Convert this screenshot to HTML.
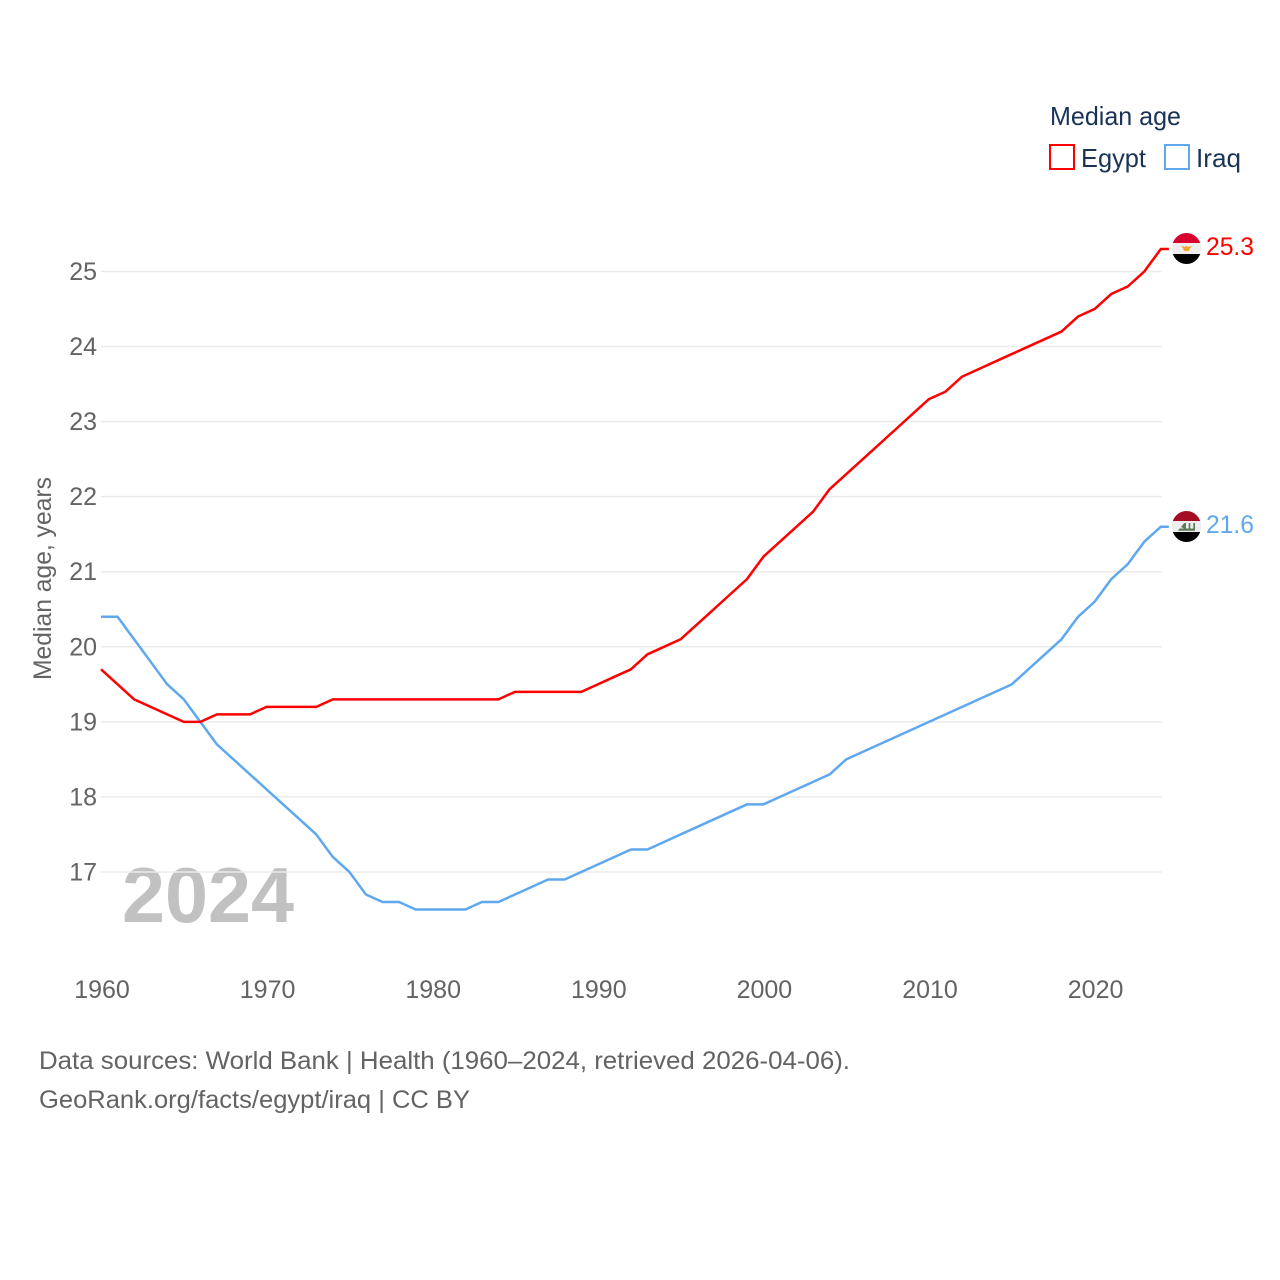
<!DOCTYPE html>
<html lang="en">
<head>
<meta charset="utf-8">
<title>Median age: Egypt and Iraq</title>
<style>
html,body{margin:0;padding:0;background:#fff;width:1280px;height:1280px;overflow:hidden}
svg{display:block}
text{font-family:"Liberation Sans",sans-serif}
</style>
</head>
<body>
<svg id="chart" xmlns="http://www.w3.org/2000/svg" width="1280" height="1280" viewBox="0 0 1280 1280">
  <defs>
    <clipPath id="clip-egypt"><ellipse cx="1186.5" cy="248.5" rx="14.7" ry="15.5"/></clipPath>
    <clipPath id="clip-iraq"><ellipse cx="1186.5" cy="526.5" rx="14.7" ry="15.5"/></clipPath>
  </defs>
  <rect width="1280" height="1280" fill="#fff"/>
  <text x="122" y="922" font-size="78" font-weight="700" fill="#c1c1c1" textLength="172" lengthAdjust="spacingAndGlyphs">2024</text>
  <g id="grid"></g>
  <g id="y-ticks"></g>
  <g id="x-ticks"></g>
  <text transform="translate(51,680) rotate(-90)" font-size="25" fill="#636363" textLength="203" lengthAdjust="spacingAndGlyphs">Median age, years</text>
  <g id="series"></g>

  <g clip-path="url(#clip-egypt)">
    <rect x="1170" y="232" width="34" height="11" fill="#d8032f"/>
    <rect x="1170" y="243" width="34" height="11" fill="#eeeeee"/>
    <rect x="1170" y="254" width="34" height="11" fill="#000"/>
    <path d="M1181 246 L1185 247 L1186.3 245.5 L1187.7 247 L1191.7 246 L1189.5 249 L1189 251 L1184 251 L1183.5 249 Z" fill="#f5a030"/>
  </g>
  <text x="1206" y="255" font-size="25" fill="#ff0000" textLength="48" lengthAdjust="spacingAndGlyphs">25.3</text>

  <g clip-path="url(#clip-iraq)">
    <rect x="1170" y="510" width="34" height="11" fill="#a50d24"/>
    <rect x="1170" y="521" width="34" height="11" fill="#eeeeee"/>
    <rect x="1170" y="532" width="34" height="11" fill="#000"/>
    <path d="M1178 530.7 L1195 530.7 L1195 523 L1193.3 523 L1193.3 528.5 L1190.3 528.5 L1190.3 523 L1188.7 523 L1188.7 528.5 L1186 528.5 L1186 523 L1184.3 523 L1181 527 L1184 528.5 L1179.5 528.5 Z" fill="#5f7a58"/>
  </g>
  <text x="1206" y="533" font-size="25" fill="#5fa8ee" textLength="48" lengthAdjust="spacingAndGlyphs">21.6</text>

  <g>
    <text x="1050" y="125" font-size="26" fill="#1a3356" textLength="131" lengthAdjust="spacingAndGlyphs">Median age</text>
    <g>
      <rect x="1050" y="145" width="24" height="24" fill="none" stroke="#ff0000" stroke-width="2"/>
      <text x="1081" y="167" font-size="26" fill="#1a3356" textLength="65" lengthAdjust="spacingAndGlyphs">Egypt</text>
    </g>
    <g>
      <rect x="1165" y="145" width="24" height="24" fill="none" stroke="#5fa8ee" stroke-width="2"/>
      <text x="1196" y="167" font-size="26" fill="#1a3356" textLength="45" lengthAdjust="spacingAndGlyphs">Iraq</text>
    </g>
  </g>

  <text x="39" y="1069" font-size="25" fill="#636363" textLength="811" lengthAdjust="spacingAndGlyphs">Data sources: World Bank | Health (1960–2024, retrieved 2026-04-06).</text>
  <text x="39" y="1108" font-size="25" fill="#636363" textLength="431" lengthAdjust="spacingAndGlyphs">GeoRank.org/facts/egypt/iraq | CC BY</text>
</svg>
<script>
const startYear = 1960;
const egyptValues = [19.7,19.5,19.3,19.2,19.1,19.0,19.0,19.1,19.1,19.1,19.2,19.2,19.2,19.2,19.3,19.3,19.3,19.3,19.3,19.3,19.3,19.3,19.3,19.3,19.3,19.4,19.4,19.4,19.4,19.4,19.5,19.6,19.7,19.9,20.0,20.1,20.3,20.5,20.7,20.9,21.2,21.4,21.6,21.8,22.1,22.3,22.5,22.7,22.9,23.1,23.3,23.4,23.6,23.7,23.8,23.9,24.0,24.1,24.2,24.4,24.5,24.7,24.8,25.0,25.3];
const iraqValues = [20.4,20.4,20.1,19.8,19.5,19.3,19.0,18.7,18.5,18.3,18.1,17.9,17.7,17.5,17.2,17.0,16.7,16.6,16.6,16.5,16.5,16.5,16.5,16.6,16.6,16.7,16.8,16.9,16.9,17.0,17.1,17.2,17.3,17.3,17.4,17.5,17.6,17.7,17.8,17.9,17.9,18.0,18.1,18.2,18.3,18.5,18.6,18.7,18.8,18.9,19.0,19.1,19.2,19.3,19.4,19.5,19.7,19.9,20.1,20.4,20.6,20.9,21.1,21.4,21.6];
const yTickValues = [17,18,19,20,21,22,23,24,25];
const xTickValues = [1960,1970,1980,1990,2000,2010,2020];

const NS = 'http://www.w3.org/2000/svg';
function xScale(year){ return 101 + (year - 1960) * 16.56; }
function yScale(v){ return 271.5 + (25 - v) * 75.06; }

const grid = document.getElementById('grid');
const yTicks = document.getElementById('y-ticks');
yTickValues.forEach(function(v){
  const line = document.createElementNS(NS, 'line');
  
  
  line.setAttribute('x1', xScale(1960));
  line.setAttribute('x2', xScale(2024) + 0.7);
  line.setAttribute('y1', yScale(v));
  line.setAttribute('y2', yScale(v));
  line.setAttribute('stroke', '#ebebeb');
  line.setAttribute('stroke-width', '1.5');
  grid.appendChild(line);
  const label = document.createElementNS(NS, 'text');
  
  
  label.setAttribute('x', 97);
  label.setAttribute('y', yScale(v) + 8.5);
  label.setAttribute('text-anchor', 'end');
  label.setAttribute('font-size', '25');
  label.setAttribute('fill', '#636363');
  label.textContent = v;
  yTicks.appendChild(label);
});

const xTicks = document.getElementById('x-ticks');
xTickValues.forEach(function(year){
  const label = document.createElementNS(NS, 'text');
  
  
  label.setAttribute('x', xScale(year) + 1);
  label.setAttribute('y', 998);
  label.setAttribute('text-anchor', 'middle');
  label.setAttribute('font-size', '25');
  label.setAttribute('fill', '#636363');
  label.textContent = year;
  xTicks.appendChild(label);
});

const seriesGroup = document.getElementById('series');
function drawSeries(values, color, seriesName){
  const pts = values.map(function(v, i){
    return xScale(startYear + i).toFixed(2) + ',' + yScale(v).toFixed(2);
  });
  const last = values[values.length - 1];
  pts.push((xScale(startYear + values.length - 1) + 8).toFixed(2) + ',' + yScale(last).toFixed(2));
  const line = document.createElementNS(NS, 'polyline');
  
  
  line.setAttribute('points', pts.join(' '));
  line.setAttribute('fill', 'none');
  line.setAttribute('stroke', color);
  line.setAttribute('stroke-width', '2.5');
  line.setAttribute('stroke-linejoin', 'round');
  seriesGroup.appendChild(line);
}
drawSeries(iraqValues, '#5fa8ee', 'iraq-line');
drawSeries(egyptValues, '#ff0000', 'egypt-line');
</script>
</body>
</html>
